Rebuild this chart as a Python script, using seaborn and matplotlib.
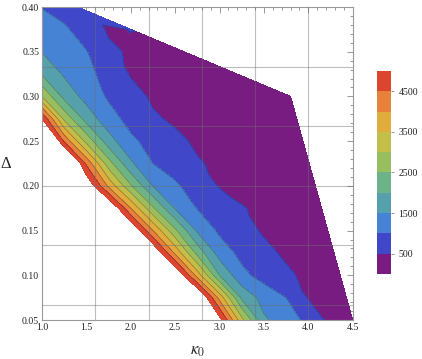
import numpy as np
import pandas as pd
import seaborn as sns
from matplotlib import pyplot as plt
from matplotlib.tri import Triangulation
from matplotlib.ticker import MultipleLocator, FormatStrFormatter


# grid of kappa_0 (columns) and Delta (rows), None = outside the computed region
kappa = [1.0, 1.25, 1.5, 1.75, 2.0, 2.25, 2.5, 2.75, 3.0, 3.25, 3.5, 3.75, 4.0, 4.25, 4.5]
delta = [0.05, 0.075, 0.10, 0.125, 0.15, 0.175, 0.20, 0.225, 0.25, 0.275, 0.30, 0.325, 0.35, 0.375, 0.40]

N = None
z_005 = [9000, 9000, 9000, 9000, 9000, 9000, 9000, 7200, 5200, 3170, 1580, 1240, 870, 350, 250]
z_0075 = [9000, 9000, 9000, 9000, 9000, 9000, 7900, 5900, 3830, 1900, 1300, 1000, 470, 320, N]
z_010 = [9000, 9000, 9000, 9000, 9000, 9000, 5700, 3790, 2000, 1130, 815, 580, 400, 300, N]
z_0125 = [9000, 9000, 9000, 9000, 9000, 5670, 3900, 2340, 1270, 860, 615, 430, 330, 280, N]
z_015 = [9000, 9000, 9000, 9000, 5700, 4000, 2600, 1420, 910, 655, 450, 350, 300, N, N]
z_0175 = [9000, 9000, 7500, 5770, 4000, 2580, 1460, 980, 755, 525, 420, 340, 290, N, N]
z_020 = [9000, 7300, 5560, 3890, 2555, 1485, 1080, 750, 470, 380, 330, 290, 260, N, N]
z_0225 = [9000, 6700, 4400, 2720, 1585, 1000, 770, 535, 430, 360, 310, 270, 240, N, N]
z_025 = [7000, 4420, 2850, 1710, 1100, 820, 590, 440, 360, 310, 270, 240, N, N, N]
z_0275 = [5000, 2890, 1795, 1200, 835, 555, 440, 370, 320, 280, 250, 230, N, N, N]
z_030 = [3000, 1840, 1330, 935, 655, 440, 380, 330, 290, 260, 240, 220, N, N, N]
z_0325 = [1950, 1440, 1145, 815, 470, 400, 350, 310, 280, N, N, N, N, N, N]
z_035 = [1480, 1250, 1020, 580, 450, 380, 350, N, N, N, N, N, N, N, N]
z_0375 = [1200, 1070, 780, 450, 510, N, N, N, N, N, N, N, N, N, N]
z_040 = [980, 800, N, N, N, N, N, N, N, N, N, N, N, N, N]

# corners of the region that are off the grid
corner_kappa = [1.4, 3.8]
corner_delta = [0.40, 0.30]
corner_value = [700, 220]

levels = [0, 500, 1000, 1500, 2000, 2500, 3000, 3500, 4000, 4500, 5000]
cbar_ticks = [500, 1500, 2500, 3500, 4500]
band_colors = ["#781c81", "#4047c8", "#4683d4", "#56a0ac", "#6db388",
               "#98be62", "#c2be4a", "#e0ac3c", "#e6823a", "#dc4530"]

rows = [z_005, z_0075, z_010, z_0125, z_015, z_0175, z_020, z_0225,
        z_025, z_0275, z_030, z_0325, z_035, z_0375, z_040]

recs = []
for d, row in zip(delta, rows):
    for k, v in zip(kappa, row):
        if v is not None:
            recs.append((k, d, v))
for k, d, v in zip(corner_kappa, corner_delta, corner_value):
    recs.append((k, d, v))
df = pd.DataFrame(recs, columns=["kappa", "delta", "value"])

# triangulate in a sheared frame so the cell diagonals follow the bands
tri_frame = Triangulation(df["kappa"], df["delta"] * 10 + df["kappa"] * 0.5)
tri = Triangulation(df["kappa"], df["delta"], tri_frame.triangles)

sns.set_style("white")
plt.rcParams["font.family"] = ["Liberation Serif", "DejaVu Serif"]
plt.rcParams["mathtext.fontset"] = "stix"

fig = plt.figure(figsize=(4.22, 3.59), dpi=100)
ax = fig.add_axes([0.0995, 0.1086, 0.7363, 0.8719])

palette = sns.color_palette(band_colors)
tcf = ax.tricontourf(tri, df["value"], levels=levels, colors=palette)
ax.tricontour(tri, df["value"], levels=levels[1:-1],
              colors="#202020", linewidths=0.5, alpha=0.4)

# grid lines
for gx in [1.6, 2.2, 2.8, 3.4, 4.0]:
    ax.axvline(gx, color="#707070", lw=0.8, alpha=0.45, zorder=3)
for gy in [0.2 / 3, 0.4 / 3, 0.2, 0.8 / 3, 1.0 / 3]:
    ax.axhline(gy, color="#707070", lw=0.8, alpha=0.45, zorder=3)

ax.set_xlim(1.0, 4.5)
ax.set_ylim(0.05, 0.40)
ax.xaxis.set_major_locator(MultipleLocator(0.5))
ax.xaxis.set_minor_locator(MultipleLocator(0.1))
ax.yaxis.set_major_locator(MultipleLocator(0.05))
ax.yaxis.set_minor_locator(MultipleLocator(0.01))
ax.xaxis.set_major_formatter(FormatStrFormatter("%.1f"))
ax.yaxis.set_major_formatter(FormatStrFormatter("%.2f"))
ax.tick_params(which="both", direction="in", top=True, right=True, color="#888888",
               labelsize=7, labelcolor="#222222", width=0.6)
ax.tick_params(which="major", length=4, pad=2)
ax.tick_params(which="minor", length=2)
for s in ax.spines.values():
    s.set_color("#999999")
    s.set_linewidth(0.8)

ax.set_xlabel(r"$\kappa_0$", fontsize=12, labelpad=8)
ax.set_ylabel("Δ", fontsize=12, rotation=0, labelpad=12, va="center")

cax = fig.add_axes([0.8934, 0.2368, 0.0332, 0.5655])
cb = fig.colorbar(tcf, cax=cax, ticks=cbar_ticks)
cb.outline.set_visible(False)
cax.tick_params(labelsize=7, length=2, width=0.6, color="#888888", labelcolor="#222222")

fig.savefig("out.png", dpi=100)
